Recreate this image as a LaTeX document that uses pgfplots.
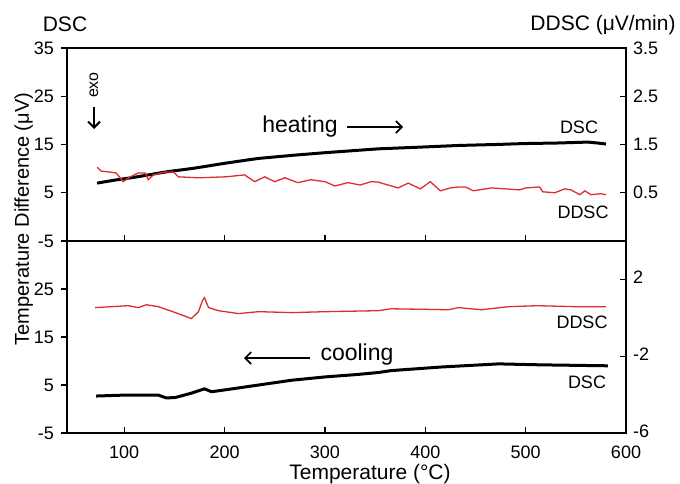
\documentclass[border=0pt]{standalone}
\usepackage{fontspec}
\setmainfont{Liberation Sans}
\usepackage{pgfplots}
\pgfplotsset{compat=1.18}
\usetikzlibrary{arrows.meta}
\definecolor{ddsc}{RGB}{222,45,45}

\pgfplotstableread{
T L
73 7.0
90 7.6
110 8.2
141 9.3
170 10.1
200 11.1
233 12.1
270 12.8
300 13.3
333 13.8
353 14.1
400 14.5
433 14.8
470 15.0
499 15.2
530 15.3
562 15.5
572 15.3
580 15.1
}\heatdsc

\pgfplotstableread{
T R
73 1.03
77 0.95
85 0.93
92 0.91
99 0.73
106 0.83
114 0.91
121 0.91
124 0.77
129 0.87
135 0.90
141 0.93
149 0.93
154 0.83
174 0.81
201 0.83
220 0.87
230 0.73
240 0.83
250 0.73
260 0.81
273 0.71
286 0.77
300 0.73
310 0.64
323 0.71
335 0.66
346 0.73
353 0.72
373 0.60
383 0.70
395 0.58
405 0.73
415 0.54
425 0.60
433 0.62
440 0.62
448 0.54
466 0.60
480 0.58
494 0.56
500 0.60
514 0.62
517 0.52
529 0.50
539 0.58
545 0.56
554 0.46
559 0.54
565 0.46
575 0.48
580 0.46
}\heatddsc

\pgfplotstableread{
T L
72 2.7
101 2.9
134 2.9
142 2.3
151 2.4
167 3.3
180 4.2
187 3.6
201 4.0
234 5.0
267 6.0
301 6.7
333 7.2
353 7.6
366 8.0
416 8.75
473 9.4
515 9.2
582 9.0
}\cooldsc

\pgfplotstableread{
T R
71 0.53
104 0.63
114 0.53
122 0.68
134 0.58
151 0.27
167 -0.04
174 0.32
178 0.90
180 1.05
184 0.53
194 0.37
214 0.22
234 0.32
267 0.27
301 0.32
353 0.37
366 0.47
423 0.42
433 0.53
456 0.42
483 0.58
512 0.63
549 0.58
580 0.58
}\coolddsc

\pgfplotsset{
  base/.style={scale only axis, width=279.5pt, xmin=43, xmax=600,
    /pgf/number format/assume math mode=true,
    tick label style={font=\fontsize{9}{10}\selectfont},
    major tick length=3pt,
    axis line style={line width=0.6pt},
    tick style={line width=0.6pt, black},
  },
  leftax/.style={base, tick align=outside, xtick=\empty, ytick pos=left, ymin=-5, ymax=35},
  rightax/.style={base, tick align=inside, axis y line*=right, axis x line*=bottom,
    xtick={100,200,300,400,500,600}},
}

\begin{document}
\begin{tikzpicture}
\useasboundingbox (-33.5pt,-25pt) rectangle (306.5pt,216.5pt);

% top panel
\begin{axis}[leftax, at={(0pt,96pt)}, anchor=south west, height=96.5pt,
  ytick={-5,5,15,25,35}]
\addplot[black, line width=1.5pt] table[x=T,y=L] {\heatdsc};
\end{axis}
\begin{axis}[rightax, at={(0pt,96pt)}, anchor=south west, height=96.5pt,
  ymin=-0.5, ymax=3.5, ytick={0.5,1.5,2.5,3.5}, xticklabels={},
  yticklabel style={/pgf/number format/.cd, fixed, fixed zerofill, precision=1}]
\addplot[ddsc, line width=0.65pt] table[x=T,y=R] {\heatddsc};
\end{axis}

% bottom panel
\begin{axis}[leftax, at={(0pt,0pt)}, anchor=south west, height=96pt,
  ytick={-5,5,15,25}]
\addplot[black, line width=1.5pt] table[x=T,y=L] {\cooldsc};
\end{axis}
\begin{axis}[rightax, at={(0pt,0pt)}, anchor=south west, height=96pt,
  ymin=-6, ymax=4, ytick={-6,-2,2}, xticklabel style={yshift=-3pt},
  yticklabel style={yshift=1pt}]
\addplot[ddsc, line width=0.65pt] table[x=T,y=R] {\coolddsc};
\end{axis}

% annotations
\node[font=\fontsize{10.5}{12}\selectfont] at (-1pt,204.5pt) {DSC};
\node[font=\fontsize{10.5}{12}\selectfont] at (268pt,204pt) {DDSC (μV/min)};
\node[font=\fontsize{10}{12}\selectfont, rotate=90, anchor=base] at (-19pt,107pt) {Temperature Difference (μV)};
\node[font=\fontsize{10.5}{12}\selectfont, anchor=base] at (151.5pt,-23pt) {Temperature (°C)};

\node[font=\fontsize{11.5}{13}\selectfont] at (116.5pt,153pt) {heating};
\draw[line width=0.6pt, -{Straight Barb[length=3pt,width=6pt,line width=0.8pt]}] (140pt,153pt) -- (168pt,153pt);
\node[font=\fontsize{11.5}{13}\selectfont] at (145pt,39pt) {cooling};
\draw[line width=0.6pt, -{Straight Barb[length=3pt,width=6pt,line width=0.8pt]}] (121.5pt,37.5pt) -- (88.5pt,37.5pt);

\node[font=\fontsize{9}{10}\selectfont] at (256pt,153pt) {DSC};
\node[font=\fontsize{9}{10}\selectfont] at (258pt,110.5pt) {DDSC};
\node[font=\fontsize{9}{10}\selectfont] at (257.5pt,55.5pt) {DDSC};
\node[font=\fontsize{9}{10}\selectfont] at (260pt,25.5pt) {DSC};

\node[font=\fontsize{8}{9}\selectfont, rotate=90] at (13.5pt,174pt) {exo};
\draw[line width=1pt, -{Straight Barb[length=3pt,width=6pt,line width=1pt]}] (13.5pt,163pt) -- (13.5pt,152pt);
\end{tikzpicture}
\end{document}
